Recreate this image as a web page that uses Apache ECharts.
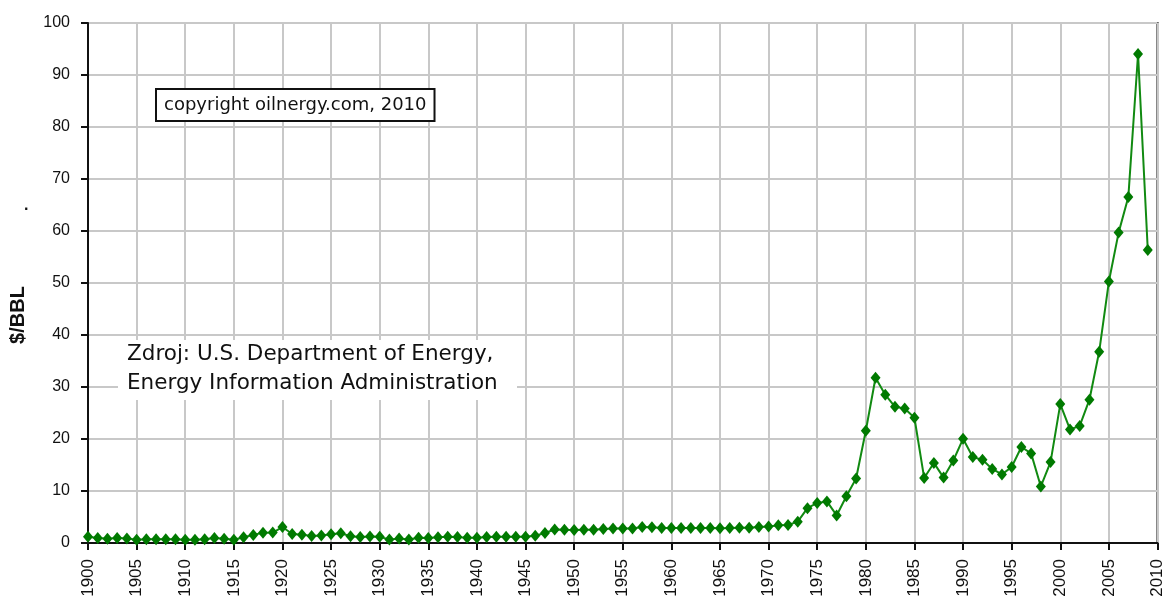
<!DOCTYPE html>
<html>
<head>
<meta charset="utf-8">
<script src="https://cdn.jsdelivr.net/npm/echarts@6/dist/echarts.min.js"></script>
<style>
html, body { margin: 0; padding: 0; background: #fff; }
#chart { width: 1166px; height: 601px; }
</style>
</head>
<body>
<div id="chart"></div>
<script>
// annual crude oil price, $/BBL, 1900 - 2009
const startYear = 1900;
const prices = [
    1.19, 0.96, 0.80, 0.94, 0.86, 0.62, 0.73, 0.72, 0.72, 0.70,
    0.61, 0.61, 0.74, 0.95, 0.81, 0.64, 1.10, 1.56, 1.98, 2.01,
    3.07, 1.73, 1.61, 1.34, 1.43, 1.68, 1.88, 1.30, 1.17, 1.27,
    1.19, 0.65, 0.87, 0.67, 1.00, 0.97, 1.09, 1.18, 1.13, 1.02,
    1.02, 1.14, 1.19, 1.20, 1.21, 1.22, 1.41, 1.93, 2.60, 2.54,
    2.51, 2.53, 2.53, 2.68, 2.78, 2.77, 2.79, 3.09, 3.01, 2.90,
    2.88, 2.89, 2.90, 2.89, 2.88, 2.86, 2.88, 2.92, 2.94, 3.09,
    3.18, 3.39, 3.45, 4.10, 6.70, 7.70, 8.00, 5.30, 9.00, 12.40,
    21.59, 31.77, 28.52, 26.19, 25.88, 24.09, 12.51, 15.40, 12.58, 15.86,
    20.03, 16.54, 15.99, 14.25, 13.19, 14.62, 18.46, 17.23, 10.87, 15.56,
    26.72, 21.84, 22.51, 27.56, 36.77, 50.28, 59.69, 66.52, 94.04, 56.35
];
const years = prices.map((p, i) => startYear + i);

const yAxisName = '$/BBL';
const copyrightNote = 'copyright oilnergy.com, 2010';
const sourceNote = 'Zdroj: U.S. Department of Energy,\nEnergy Information Administration';

const chart = echarts.init(document.getElementById('chart'));

var option = {
    backgroundColor: '#fff',
    animation: false,
    grid: {
        left: 88,
        right: 7,
        top: 23,
        bottom: 58,
        show: true,
        borderColor: '#111',
        borderWidth: 2
    },
    xAxis: {
        type: 'value',
        min: 1900,
        max: 2010,
        interval: 5,
        axisLine: { lineStyle: { color: '#111', width: 2 } },
        axisTick: { show: true, length: 7, lineStyle: { color: '#111', width: 2 } },
        axisLabel: {
            rotate: 90,
            margin: 16,
            color: '#111',
            fontSize: 17,
            fontFamily: 'Liberation Sans',
            formatter: v => String(v)
        },
        splitLine: { show: true, lineStyle: { color: '#c8c8c8', width: 2 } }
    },
    yAxis: {
        type: 'value',
        min: 0,
        max: 100,
        interval: 10,
        axisLine: { show: true, lineStyle: { color: '#111', width: 2 } },
        axisTick: { show: true, length: 7, lineStyle: { color: '#111', width: 2 } },
        axisLabel: {
            margin: 18,
            color: '#111',
            fontSize: 16,
            fontFamily: 'Liberation Sans'
        },
        splitLine: { show: true, lineStyle: { color: '#c8c8c8', width: 2 } }
    },
    graphic: [
        {
            type: 'rect',
            left: 118,
            top: 340,
            shape: { width: 399, height: 60 },
            style: { fill: '#fff' },
            z: 10
        },
        {
            type: 'text',
            left: 127,
            top: 340,
            z: 11,
            style: {
                text: sourceNote,
                fill: '#111',
                font: '21.5px "DejaVu Sans"',
                lineHeight: 29,
                align: 'left'
            }
        },
        {
            type: 'text',
            left: 155,
            top: 88,
            z: 11,
            style: {
                text: copyrightNote,
                fill: '#111',
                font: '18px "DejaVu Sans"',
                backgroundColor: '#fff',
                borderColor: '#111',
                borderWidth: 2,
                padding: [6, 7, 6, 7]
            }
        },
        {
            type: 'text',
            x: 8,
            y: 315,
            rotation: Math.PI / 2,
            z: 11,
            style: {
                text: yAxisName,
                fill: '#111',
                font: 'bold 20px "Liberation Sans"',
                align: 'center',
                verticalAlign: 'top'
            }
        },
        {
            type: 'text',
            left: 24,
            top: 198,
            style: { text: '.', fill: '#111', font: 'bold 16px "Liberation Sans"' }
        }
    ],
    series: [{
        type: 'line',
        data: years.map((y, i) => [y, prices[i]]),
        symbol: 'diamond',
        symbolSize: [10, 12],
        showAllSymbol: true,
        lineStyle: { color: '#118a11', width: 2 },
        itemStyle: { color: '#007a00' },
        z: 5
    }]
};
chart.setOption(option);
</script>
</body>
</html>
